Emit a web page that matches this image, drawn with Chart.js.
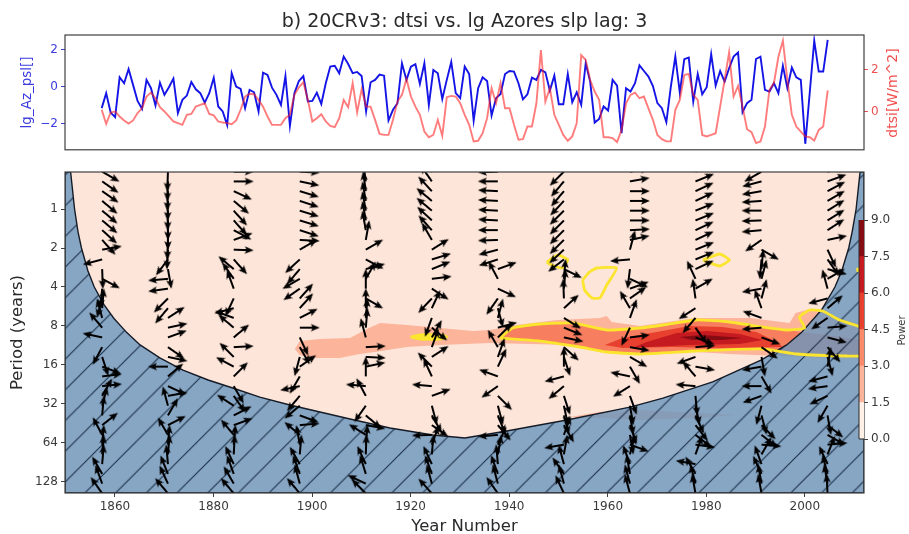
<!DOCTYPE html>
<html><head><meta charset="utf-8">
<script src="https://cdn.jsdelivr.net/npm/chart.js@4"></script>
<style>
html,body{margin:0;padding:0;background:#fff;width:909px;height:534px;overflow:hidden}
canvas{position:absolute;filter:blur(0.5px)}
</style></head><body>
<canvas id="top" width="909" height="160" style="left:0;top:0"></canvas>
<canvas id="main" width="909" height="374" style="left:0;top:160px"></canvas>
<canvas id="bar" width="59" height="250" style="left:850px;top:200px"></canvas>
<script>
// ---------- top panel series ----------
const lgAzPsl=[-1.15,-0.34,-1.39,-1.64,0.52,0.2,0.97,0.11,-0.76,-1.19,0.38,-0.07,-1.01,0.23,-0.43,-0.02,0.45,-1.42,-0.7,-0.47,0.27,-0.13,-0.34,-0.85,-0.34,0.49,-1.06,-1.33,-2.07,0.74,0.02,-0.11,-1.15,-0.16,-0.29,-1.33,0.77,0.65,-0.04,-0.43,-0.97,0.59,-2.11,-0.34,0.32,0.59,-0.79,-0.76,-0.31,-0.92,0.2,1.1,1.14,0.74,1.64,1.24,0.74,0.81,0.59,-1.33,0.25,0.38,0.67,0.61,-1.82,-1.24,-0.88,1.28,0.38,1.1,1.23,0.16,1.28,-0.99,0.92,0.74,-0.65,0.38,1.35,-0.34,-0.61,
1.1,0.7,-1.82,-0.07,0.52,0.32,-1.55,-0.61,-0.38,0.7,0.86,0.83,0.2,-0.67,-0.4,0.5,0.38,0.92,0.79,-0.2,0.61,-0.94,-0.94,0.7,-0.83,-0.29,-0.97,1.28,0.29,-1.93,-1.73,-1.06,-1.28,0.38,0.07,-2.5,-0.07,-0.25,0.2,1.17,0.86,0.56,0.05,-0.88,-1.15,-1.91,0.02,1.64,-0.31,1.5,1.59,-0.79,0.7,-0.4,-0.02,1.77,0.07,0.86,0.29,1.01,1.64,1.86,-1.37,-0.88,-0.7,1.51,1.64,-0.16,-0.25,0.2,-0.34,1.14,-0.07,1.05,0.52,0.38,-3.08,-0.29,2.5,0.83,0.83,2.54];
const dtsi=[0.1,-0.57,-0.03,0.02,-0.22,-0.41,-0.56,-0.41,-0.06,0.17,0.73,0.92,0.65,0.22,0.02,-0.22,-0.46,-0.54,-0.62,-0.14,-0.1,0.25,0.33,0.41,-0.1,-0.17,-0.46,-0.51,-0.54,-0.59,-0.41,0.1,0.73,0.86,0.84,0.57,0.25,-0.22,-0.62,-0.62,-0.62,-0.3,-0.14,0.81,1.17,1.41,0.57,-0.46,-0.3,-0.11,-0.46,-0.67,-0.73,-0.3,0.57,0.22,1.37,-0.03,1.08,0.25,0.25,-0.38,-1.05,-1.1,-1.1,-0.38,0.49,0.81,1.57,0.73,0.25,-0.14,-0.94,-1.21,-1.1,-0.38,-1.14,0.7,0.76,0.73,0.41,
-0.14,-0.62,-1.41,-1.38,-1.02,-0.3,1.13,0.41,1.37,0.17,0.17,-0.62,-1.33,-1.3,-0.7,-0.7,0.41,2.95,0.49,1.13,-0.14,-0.62,-1.1,-1.38,-1.17,-0.54,2.71,2.48,1.52,0.97,0.57,-1.21,-1.21,-1.25,-1.44,-0.86,0.41,0.81,0.92,0.65,0.73,0.17,-0.38,-1.1,-1.3,-1.41,-1.41,0.1,0.57,1.76,1.81,0.81,0.57,-1.1,-1.17,-1.1,-1.02,0.25,1.52,2.84,0.73,1.24,0.25,-0.83,-0.97,-1.49,-1.41,-0.7,1.05,1.37,2.63,3.4,1.52,-0.14,-0.7,-0.94,-1.17,-1.21,-1.37,-0.86,-0.7,1.02];
const leftTicks=[-2,0,2];
const rightTicks=[0,2];
// ---------- main panel axes ----------
const yearTicks=[1860,1880,1900,1920,1940,1960,1980,2000];
const periodTicks=[1,2,4,8,16,32,64,128];
// ---------- cone of influence ----------
const coiYears=[1851,1851.8,1852.5,1853.2,1854.5,1855.8,1857.8,1859.8,1862.4,1865.1,1869.1,1873.8,1878.9,1883.9,1889.4,1895.5,1901.6,1907.7,1915.8,1924.5,1931,1939.5,1951.7,1964.5,1971.2,1981.3,1991.2,1996.3,1999.3,2003.4,2006.1,2007.5,2008.9,2009.6,2010.4,2011.2,2012,2012,1849.86,1849.86];
const coiPeriods=[0.518,1,1.5,2,3,4,5.5,7,9,11.2,14.1,17.5,20.9,24.1,28.3,32.6,36.9,41.8,49,55.5,58.6,51.7,42.5,33.8,28.8,21.6,14.6,11.2,9,6,4,3,2,1.5,1,0.518,0.518,155.7,155.7,0.518];
// ---------- power contours ----------
const band1Years=[1896.5,1897.5,1901.6,1907.7,1911.1,1913.8,1919.2,1925.9,1932.6,1936.1,1941.5,1949.7,1958.4,1959.8,1960.8,1966.5,1977.8,1988.8,1996.9,1998.1,2001,2004.4,2008.1,2012,2012,2005,1994.9,1984.7,1974.6,1966.5,1959.8,1952.9,1944.2,1936.1,1925.9,1919.2,1912.7,1909.7,1905.6,1900.2,1897.5];
const band1Periods=[12.04,10.45,10.08,9.9,8.44,7.58,7.86,8.29,8.74,8.59,7.86,7.19,6.94,6.7,7.45,8,6.94,6.94,7.58,6.35,5.91,6.24,7.19,7.86,14.13,14.13,13.64,13.16,12.48,12.25,12.7,11.22,11.02,10.82,11.22,11.62,12.7,13.16,14.13,14.13,13.4];
const ghostYears=[1952.3,1958.4,1966.5,1974.6,1985.8,1978.7,1966.5,1958.4];
const ghostPeriods=[40.3,36.9,35.6,36.9,38.9,41,42.5,41];
const band2Years=[1938.1,1940.7,1946.2,1952.9,1959.8,1966.5,1971.2,1978,1984.7,1991.4,1996.3,2001,2012,2012,2008.5,1998.3,1991.4,1978,1966.5,1959.8,1954.3,1946.2];
const band2Periods=[9.9,8.29,7.72,7.58,8.59,8.29,7.86,7.19,7.45,8.14,8.59,9.06,10.26,13.4,13.64,13.16,12.04,12.48,13.16,12.7,11.62,10.45];
const band3Years=[1959.4,1963,1969.9,1976.6,1983.3,1990.2,1994.3,1995.5,1983.3,1973.2,1963];
const band3Periods=[11.22,9.9,8.9,8,8.14,8.9,10.63,11.62,11.83,11.62,11.83];
const band4Years=[1964.9,1967.9,1974,1980.1,1986.8,1991.4,1986.8,1976.6,1968.5];
const band4Periods=[11.83,10.63,9.06,8.74,9.22,10.26,11.02,11.22,11.62];
const band5Years=[1974.6,1979.3,1984.7,1987.4,1983.3,1977.2];
const band5Periods=[9.73,9.39,9.73,9.9,10.26,10.26];
// ---------- significance contours ----------
const sigMainYears=[1938.1,1940.7,1946.2,1952.9,1959.8,1966.5,1971.2,1978,1984.7,1991.4,1996.3,1999.96,1998.9,2001,2003.6,2007,2012,2012,2008.5,1998.3,1991.4,1978,1966.5,1959.8,1954.3,1946.2];
const sigMainPeriods=[9.9,8.29,7.72,7.58,8.59,8.29,7.86,7.19,7.45,8.14,8.59,8.29,6.82,6.02,6.13,7.19,8.44,13.4,13.64,13.16,12.04,12.48,13.16,12.7,11.62,10.45];
const sig2Years=[1920,1921.9,1925.9,1927.3,1925.9,1921.9];
const sig2Periods=[9.73,9.39,9.39,9.73,10.08,10.08];
const sig3Years=[1947.6,1949.9,1951.9,1950.7,1948.6];
const sig3Periods=[2.57,2.265,2.475,2.854,2.706];
const sig4Years=[1954.9,1956.3,1957.8,1961.8,1959.8,1958.4,1956.8,1955.3];
const sig4Periods=[3.53,3.064,2.854,2.854,3.86,4.86,4.86,4.22];
const sig5Years=[1979.3,1982.7,1984.7,1982.7];
const sig5Periods=[2.475,2.225,2.475,2.755];
const sig6Years=[2010.5,2012,2012];
const sig6Periods=[2.957,2.755,3.119];
// ---------- phase arrows ----------
const arrowYears=[1857.4,1870.75,1884.1,1897.5,1910.9,1924.3,1937.7,1951.1,1964.5,1977.8,1991.2,2004.6];
const arrowPeriods=[0.515,0.612,0.728,0.866,1.03,1.225,1.457,1.733,2.06,2.45,2.91,3.46,4.12,4.9,5.83,6.93,8.24,9.8,11.65,13.86,16.48,19.6,23.3,27.7,33,39.2,46.6,55.4,65.9,78.4,93.2,110.9,131.8,156.8];
const anglesA=[30,35,35,40,40,40,42,48,-10,165,88,28,95,105,-85,-105,-130,-168,118,72,20,-7,-6,-60,-75,-85,-38,-118,-85,-85,-85,-120,-110,-125];
const anglesB=[92,92,92,91,91,90,90,92,93,127,80,175,172,135,130,-33,-12,-20,35,12,180,-40,25,-10,-105,-60,-27,-120,-85,-85,-95,-112,-115,-130];
const anglesC=[0,0,25,40,48,48,28,-20,2,48,-140,-125,-110,115,165,-160,-140,-40,-3,-135,-152,-45,60,55,-147,-27,-20,-130,-85,-87,-115,-110,-120,-130];
const anglesD=[3,12,17,18,17,17,18,3,-30,137,130,150,145,-48,-48,-27,0,65,60,105,-35,120,168,130,140,20,-5,-140,-100,-85,-120,-110,-105,-130];
const anglesE=[-95,-98,-98,-100,-100,-100,-100,-80,-30,28,-15,-60,-90,30,-90,-85,-85,-105,-3,3,-12,-90,-175,-118,125,40,10,-148,-85,-88,-115,-107,-155,-135];
const anglesF=[-145,-125,-133,-140,-140,-137,-132,-120,-32,-17,-22,-7,33,133,-65,110,40,-60,-70,-33,-135,-115,-175,-20,75,60,35,178,-70,-85,-115,-110,-105,-132];
const anglesG=[178,180,-177,-177,-177,-177,180,178,165,162,-20,-118,25,125,75,-75,-15,-45,-120,-70,-65,-160,145,45,75,68,50,175,-65,-80,-95,-110,-105,-125];
const anglesH=[135,130,130,133,135,135,135,135,137,142,26,-85,-85,-92,-42,32,22,12,42,72,-90,165,140,72,78,75,60,-70,170,-80,-105,-125,-105,-115];
const anglesI=[-10,-10,0,0,0,0,-3,-12,-75,175,97,25,-20,-35,-120,-70,115,-7,10,30,60,-168,148,70,80,80,70,80,20,-75,-110,-100,-105,-105];
const anglesJ=[-25,-22,-25,-25,-22,-22,-25,-25,-22,-22,-25,-115,-30,-98,147,130,55,20,-5,160,10,-130,-175,85,78,65,52,38,8,-70,-170,-120,-105,-100];
const anglesK=[150,165,170,176,180,178,175,145,30,95,-85,-75,170,-75,-110,-160,175,20,35,80,170,60,180,160,105,75,45,38,5,-60,-110,-115,-100,-100];
const anglesL=[-15,-20,-28,-30,-32,-32,-33,-12,65,55,15,-30,-105,165,-40,145,-5,15,50,75,-80,165,172,155,120,80,38,30,-5,-68,-115,-105,-100,-93];
const arrowAngles=[anglesA,anglesB,anglesC,anglesD,anglesE,anglesF,anglesG,anglesH,anglesI,anglesJ,anglesK,anglesL];
// ---------- colour bar ----------
const powerSteps=[1.5,1.5,1.5,1.5,1.5,1.5];
const powerColors=['#fff0e8','#fcb49b','#fb8a6a','#e8402f','#c41a20','#860c14'];
const powerTicks=[0,1.5,3,4.5,6,7.5,9];

const FONT='"DejaVu Sans"';
const INK='#3a3a3a';
const frame={id:'frame',afterDatasetsDraw(c){const a=c.chartArea,x=c.ctx;x.save();x.strokeStyle='#404040';x.lineWidth=1.2;x.strokeRect(a.left,a.top,a.right-a.left,a.bottom-a.top);x.restore();}};
const setTicks=v=>s=>{s.ticks=v.map(t=>({value:t}));};
const pairs=(xs,ys)=>xs.map((x,i)=>({x,y:ys[i]}));
const closed=(xs,ys)=>{const p=pairs(xs,ys);p.push(p[0]);return p;};
// a vertical label reading upwards on a right-hand axis
const upLabel=(id,text,color,size,px,py)=>({id,afterDraw(c){const x=c.ctx;x.save();x.translate(px,py);x.rotate(-Math.PI/2);x.fillStyle=color;x.font=size+'px '+FONT;x.textAlign='center';x.textBaseline='middle';x.fillText(text,0,0);x.restore();}});

// ---------- top chart ----------
new Chart(document.getElementById('top'),{
 type:'scatter',
 data:{datasets:[
  {data:dtsi.map((y,x)=>({x,y})),yAxisID:'yR',showLine:true,pointRadius:0,borderColor:'rgba(255,30,30,0.58)',borderWidth:1.9,order:0},
  {data:lgAzPsl.map((y,x)=>({x,y})),yAxisID:'yL',showLine:true,pointRadius:0,borderColor:'#1414e6',borderWidth:1.9,order:1}
 ]},
 plugins:[frame,upLabel('rightLabel','dtsi[W/m^2]','#f05050',14,893,93)],
 options:{responsive:false,animation:false,events:[],
  layout:{padding:{bottom:10}},
  plugins:{legend:{display:false},tooltip:{enabled:false},
   title:{display:true,fullSize:false,text:'b) 20CRv3: dtsi vs. lg Azores slp lag: 3',color:'#2a2a2a',font:{family:FONT,size:19,weight:'normal',lineHeight:1.2},padding:{top:11,bottom:1.2}}},
  scales:{
   x:{type:'linear',display:false,min:-8.19,max:170.1},
   yL:{position:'left',min:-3.405,max:2.81,afterFit:s=>{s.width=65;},afterBuildTicks:setTicks(leftTicks),
    grid:{drawOnChartArea:false,tickLength:4,color:'#3c3ccf'},border:{display:false},
    ticks:{color:'#3a3ae0',font:{family:FONT,size:12},padding:3,callback:v=>String(v).replace('-','\u2212')},
    title:{display:true,text:'lg_Az_psl[]',color:'#3a3ae0',font:{family:FONT,size:13.5},padding:{top:19,bottom:0}}},
   yR:{position:'right',min:-1.81,max:3.667,afterFit:s=>{s.width=45;},afterBuildTicks:setTicks(rightTicks),
    grid:{drawOnChartArea:false,tickLength:4,color:'#f05050'},border:{display:false},
    ticks:{color:'#f05050',font:{family:FONT,size:12},padding:3,callback:v=>String(v)}}
  }}
});

// ---------- main chart ----------
const ctx2=document.getElementById('main').getContext('2d');
function hatch(){
 const t=document.createElement('canvas');t.width=t.height=31;const g=t.getContext('2d');
 g.fillStyle='rgba(105,150,190,0.8)';g.fillRect(0,0,31,31);
 g.strokeStyle='rgba(18,38,62,0.95)';g.lineWidth=1.05;
 g.beginPath();g.moveTo(-3,22);g.lineTo(22,-3);g.moveTo(16,34);g.lineTo(34,16);g.stroke();
 const p=ctx2.createPattern(t,'repeat');p.setTransform(new DOMMatrix().scale(0.99));return p;
}
function arrowImage(){
 const L=20,t=document.createElement('canvas');t.width=2*L+2;t.height=12;const g=t.getContext('2d');
 const c=L+1,m=6;g.fillStyle='#000';g.beginPath();
 g.moveTo(c,m-1.1);g.lineTo(c+L-7.5,m-1.1);g.lineTo(c+L-9,m-3.8);g.lineTo(c+L,m);g.lineTo(c+L-9,m+3.8);g.lineTo(c+L-7.5,m+1.1);g.lineTo(c,m+1.1);g.closePath();g.fill();
 return t;
}
const arrowPoints=[],arrowRot=[];
arrowYears.forEach((yr,i)=>arrowPeriods.forEach((p,k)=>{arrowPoints.push({x:yr,y:p});arrowRot.push(arrowAngles[i][k]);}));
const img=arrowImage();
const poly=(data,color,order)=>({data,showLine:true,pointRadius:0,borderWidth:0,borderColor:color,backgroundColor:color,fill:'shape',order});
const sig=(data,order,fill)=>({data,showLine:true,pointRadius:0,borderWidth:2.8,borderColor:'#fbe52e',backgroundColor:'#fbe52e',fill:fill?'shape':false,order,tension:0.15});

new Chart(ctx2,{
 type:'scatter',
 data:{datasets:[
  poly(closed(band1Years,band1Periods),'#fcb49b',20),
  poly(closed(ghostYears,ghostPeriods),'#fcb49b',19),
  poly(closed(band2Years,band2Periods),'#f77e5e',18),
  poly(closed(band3Years,band3Periods),'#e8402f',17),
  poly(closed(band4Years,band4Periods),'#c41a20',16),
  poly(closed(band5Years,band5Periods),'#860c14',15),
  {data:closed(coiYears,coiPeriods),showLine:true,pointRadius:0,borderWidth:1.4,borderColor:'#141c28',backgroundColor:hatch(),fill:'shape',order:10},
  sig(closed(sigMainYears,sigMainPeriods),9),
  sig(closed(sig2Years,sig2Periods),8,true),
  sig(closed(sig3Years,sig3Periods),7),
  sig(closed(sig4Years,sig4Periods),6),
  sig(closed(sig5Years,sig5Periods),5),
  sig(closed(sig6Years,sig6Periods),4),
  {data:arrowPoints,pointStyle:img,pointRadius:6,pointHoverRadius:6,rotation:c=>arrowRot[c.dataIndex],order:0,clip:0}
 ]},
 plugins:[{id:'bg',beforeDraw(c){const a=c.chartArea,x=c.ctx;x.save();x.fillStyle='#fee5d9';x.fillRect(a.left,a.top,a.right-a.left,a.bottom-a.top);x.restore();}},
  {id:'clipArrows',beforeDatasetDraw(c,args){if(args.index===13){const a=c.chartArea,x=c.ctx;x.save();x.beginPath();x.rect(a.left,a.top,a.right-a.left,a.bottom-a.top);x.clip();}},afterDatasetDraw(c,args){if(args.index===13)c.ctx.restore();}},
  frame],
 options:{responsive:false,animation:false,events:[],
  layout:{padding:{top:12}},
  plugins:{legend:{display:false},tooltip:{enabled:false},title:{display:false}},
  scales:{
   x:{type:'linear',min:1849.86,max:2012,afterFit:s=>{s.height=41;s.width=799;},afterBuildTicks:setTicks(yearTicks),
    grid:{drawOnChartArea:false,tickLength:4,color:'#404040'},border:{display:false},
    ticks:{color:INK,font:{family:FONT,size:12},padding:3,maxRotation:0,autoSkip:false,callback:v=>String(v)},
    title:{display:true,text:'Year Number',color:'#2a2a2a',font:{family:FONT,size:16.5},padding:{top:0,bottom:-3}}},
   y:{type:'logarithmic',reverse:true,min:0.518,max:155.7,afterFit:s=>{s.width=65;},afterBuildTicks:setTicks(periodTicks),
    grid:{drawOnChartArea:false,tickLength:4,color:'#404040'},border:{display:false},
    ticks:{color:INK,font:{family:FONT,size:12},padding:3,autoSkip:false,callback:v=>String(v)},
    title:{display:true,text:'Period (years)',color:'#2a2a2a',font:{family:FONT,size:16.5},padding:{top:8,bottom:0}}},
   yPad:{display:true,position:'right',min:0,max:1,afterFit:s=>{s.width=45;},grid:{display:false},border:{display:false},ticks:{display:false}}
  }}
});

// ---------- colour bar ----------
new Chart(document.getElementById('bar'),{
 type:'bar',
 data:{labels:['Power'],datasets:powerSteps.map((v,i)=>({data:[v],backgroundColor:powerColors[i],barPercentage:1,categoryPercentage:1,borderWidth:0}))},
 plugins:[{id:'outline',afterDatasetsDraw(c){const a=c.chartArea,x=c.ctx;x.save();x.strokeStyle='#2a2a2a';x.lineWidth=1;x.beginPath();x.moveTo(a.left,a.top);x.lineTo(a.left,a.bottom);x.lineTo(a.right,a.bottom);x.stroke();x.restore();}},upLabel('powerLabel','Power',INK,10,52,130.5)],
 options:{responsive:false,animation:false,events:[],
  layout:{padding:{left:9,top:20,bottom:11}},
  plugins:{legend:{display:false},tooltip:{enabled:false}},
  scales:{
   x:{display:false,stacked:true},
   y:{stacked:true,position:'right',min:0,max:9,afterFit:s=>{s.width=45;},afterBuildTicks:setTicks(powerTicks),
    grid:{drawOnChartArea:false,tickLength:4,color:'#404040'},border:{display:false},
    ticks:{color:INK,font:{family:FONT,size:12},padding:3,autoSkip:false,callback:v=>v.toFixed(1)}}
  }}
});
</script>
</body></html>
